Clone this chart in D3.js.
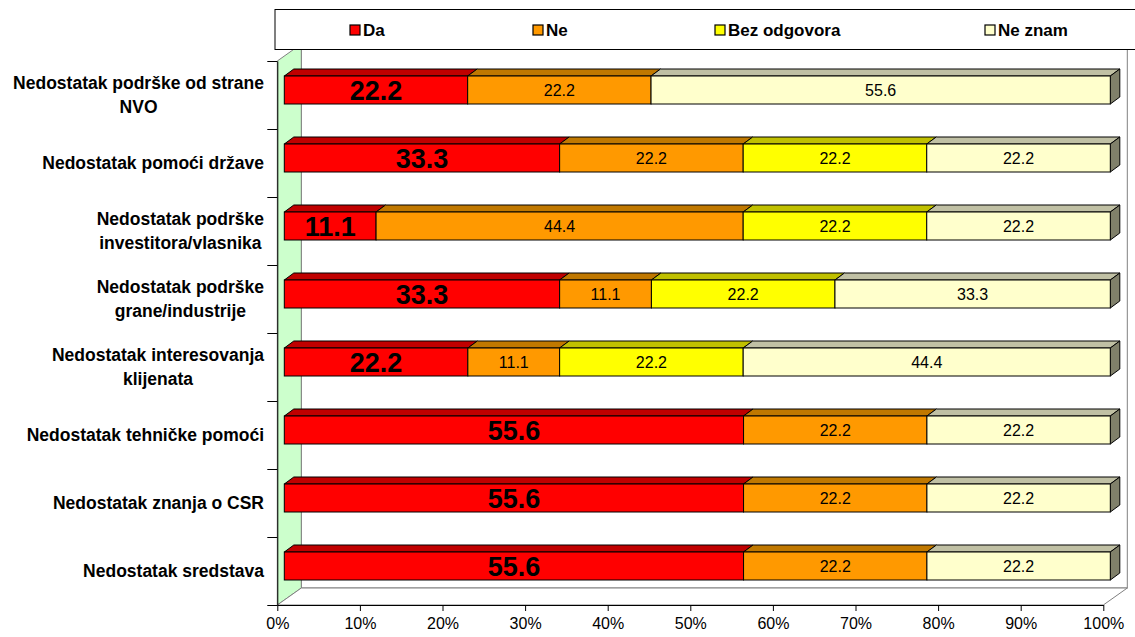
<!DOCTYPE html>
<html><head><meta charset="utf-8">
<script src="https://cdn.jsdelivr.net/npm/d3@7"></script>
<style>
html,body{margin:0;padding:0;background:#fff;}
svg{display:block;font-family:"Liberation Sans",Arial,sans-serif;}
</style></head>
<body>
<svg id="chart" width="1135" height="637"></svg>
<script>
const categories = [
  "Nedostatak podrške od strane\nNVO",
  "Nedostatak pomoći države",
  "Nedostatak podrške\ninvestitora/vlasnika",
  "Nedostatak podrške\ngrane/industrije",
  "Nedostatak interesovanja\nklijenata",
  "Nedostatak tehničke pomoći",
  "Nedostatak znanja o CSR",
  "Nedostatak sredstava"
];
const seriesNames = ["Da", "Ne", "Bez odgovora", "Ne znam"];
const da     = [22.2, 33.3, 11.1, 33.3, 22.2, 55.6, 55.6, 55.6];
const ne     = [22.2, 22.2, 44.4, 11.1, 11.1, 22.2, 22.2, 22.2];
const bez    = [0,    22.2, 22.2, 22.2, 22.2, 0,    0,    0];
const neZnam = [55.6, 22.2, 22.2, 33.3, 44.4, 22.2, 22.2, 22.2];
const tickValues = [0,0.1,0.2,0.3,0.4,0.5,0.6,0.7,0.8,0.9,1];
const tickLabels = ["0%","10%","20%","30%","40%","50%","60%","70%","80%","90%","100%"];

const frontColors = ["#FF0000", "#FF9900", "#FFFF00", "#FFFFCC"];
const topColors   = ["#C00000", "#C07800", "#C0C000", "#C0C0A4"];
const sideColors  = ["#800000", "#804C00", "#808000", "#80806A"];

const table = categories.map((c, i) => ({cat: c, "Da": da[i], "Ne": ne[i], "Bez odgovora": bez[i], "Ne znam": neZnam[i]}));
const stacked = d3.stack().keys(seriesNames).offset(d3.stackOffsetExpand)(table);

const svg = d3.select("#chart");
const FX0 = 277.3, FX1 = 1103.3, FY0 = 61, FY1 = 605;
const DX = 24, DY = 17;           // wall depth
const BDX = 7, BDY = 5;           // bar front offset from front plane
const TDX = 9.5, TDY = 7;         // bar depth
const x = d3.scaleLinear().domain([0, 1]).range([FX0, FX1]);
const y = d3.scaleBand().domain(categories).range([FY0, FY1]);

// back wall
svg.append("rect").attr("x", FX0 + DX).attr("y", FY0 - DY).attr("width", FX1 - FX0).attr("height", FY1 - FY0)
  .attr("fill", "#fff").attr("stroke", "#808080");
// left wall
svg.append("polygon").attr("points", [[FX0, FY0],[FX0+DX, FY0-DY],[FX0+DX, FY1-DY],[FX0, FY1]].join(" "))
  .attr("fill", "#CCFFCC").attr("stroke", "#808080");
// floor
svg.append("polygon").attr("points", [[FX0, FY1],[FX0+DX, FY1-DY],[FX1+DX, FY1-DY],[FX1, FY1]].join(" "))
  .attr("fill", "#fff").attr("stroke", "#808080");

// bars
const bars = svg.append("g");
stacked.forEach((layer, si) => {
  layer.forEach((d, i) => {
    const v = d[1] - d[0];
    if (v <= 0) return;
    const cy = y(categories[i]) + y.bandwidth() / 2;
    const top = cy - 19, h = 28;
    const x0 = x(d[0]) + BDX, x1 = x(d[1]) + BDX;
    const g = bars.append("g");
    g.append("polygon").attr("points", [[x0, top],[x0+TDX, top-TDY],[x1+TDX, top-TDY],[x1, top]].join(" "))
      .attr("fill", topColors[si]).attr("stroke", "#000").attr("stroke-width", 1);
    const isLast = stacked.slice(si + 1).every(l => l[i][1] - l[i][0] <= 0);
    if (isLast) {
      g.append("polygon").attr("points", [[x1, top],[x1+TDX, top-TDY],[x1+TDX, top-TDY+h],[x1, top+h]].join(" "))
        .attr("fill", sideColors[si]).attr("stroke", "#000").attr("stroke-width", 1);
    }
    g.append("rect").attr("x", x0).attr("y", top).attr("width", x1 - x0).attr("height", h)
      .attr("fill", frontColors[si]).attr("stroke", "#000").attr("stroke-width", 1);
    const val = [da, ne, bez, neZnam][si][i];
    const big = si === 0;
    g.append("text").attr("x", (x0 + x1) / 2).attr("y", top + h / 2 + (big ? 9.7 : 5.8))
      .attr("text-anchor", "middle").attr("font-size", big ? 27 : 16).attr("font-weight", big ? "bold" : "normal")
      .attr("fill", "#000").text(val.toFixed(1));
  });
});

// x axis
const xAxis = d3.axisBottom(x).tickValues(tickValues).tickFormat((d, i) => tickLabels[i]).tickSize(6).tickSizeOuter(0);
const gx = svg.append("g").attr("transform", `translate(0,${FY1})`).call(xAxis);
gx.select(".domain").attr("stroke", "#000");
gx.selectAll(".tick line").attr("stroke", "#000");
gx.selectAll(".tick text").attr("font-size", 16).attr("fill", "#000").attr("font-family", "Liberation Sans, Arial, sans-serif").attr("dy", "0.95em");

// y axis: ticks at band boundaries
const yb = d3.scaleLinear().domain([0, categories.length]).range([FY0, FY1]);
const yAxis = d3.axisLeft(yb).tickValues(d3.range(categories.length + 1)).tickFormat("").tickSize(10).tickSizeOuter(0);
const gy = svg.append("g").attr("transform", `translate(${FX0},0)`).call(yAxis);
gy.select(".domain").attr("stroke", "#000");
gy.selectAll(".tick line").attr("stroke", "#000");

// category labels
categories.forEach(c => {
  const lines = c.split("\n");
  const cy = y(c) + y.bandwidth() / 2;
  const lh = 24;
  const g = svg.append("g");
  const texts = lines.map((ln, k) => g.append("text")
    .attr("y", cy + 6 + (k - (lines.length - 1) / 2) * lh)
    .attr("font-size", 17.5).attr("font-weight", "bold").attr("fill", "#000").text(ln));
  const widths = texts.map(t => t.node().getComputedTextLength());
  const wmax = d3.max(widths);
  const center = 264 - wmax / 2;
  texts.forEach(t => t.attr("x", center).attr("text-anchor", "middle"));
});

// legend
svg.append("rect").attr("x", 275).attr("y", 9.5).attr("width", 880).attr("height", 40)
  .attr("fill", "#fff").attr("stroke", "#000");
const legendX = [350, 533, 715, 985];
seriesNames.forEach((s, i) => {
  svg.append("rect").attr("x", legendX[i]).attr("y", 25).attr("width", 10).attr("height", 10)
    .attr("fill", frontColors[i]).attr("stroke", "#000").attr("stroke-width", 1.2);
  svg.append("text").attr("x", legendX[i] + 13).attr("y", 36).attr("font-size", 17).attr("font-weight", "bold")
    .attr("fill", "#000").text(s);
});
</script>
</body></html>
